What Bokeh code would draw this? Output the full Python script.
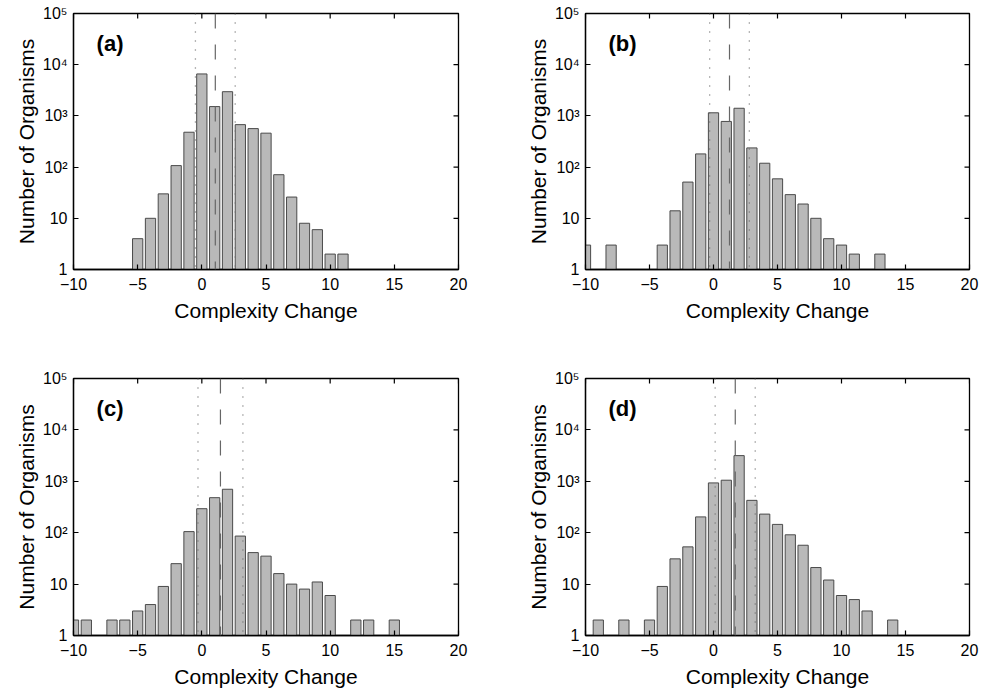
import math
from bokeh.plotting import figure
from bokeh.layouts import gridplot
from bokeh.models import FixedTicker, Label, Span
from bokeh.embed import file_html
from bokeh.resources import INLINE

# ---- data ----
a_change = [-5, -4, -3, -2, -1, 0, 1, 2, 3, 4, 5, 6, 7, 8, 9, 10, 11]
a_count = [4, 10, 30, 107, 480, 6600, 1520, 2970, 675, 565, 460, 71, 26, 8, 6, 2, 2]
a_mean, a_low, a_high = 1.05, -0.5, 2.6

b_change = [-10, -8, -4, -3, -2, -1, 0, 1, 2, 3, 4, 5, 6, 7, 8, 9, 10, 11, 13]
b_count = [3, 3, 3, 14, 51, 181, 1150, 780, 1410, 237, 119, 59, 29, 19, 10, 4, 3, 2, 2]
b_mean, b_low, b_high = 1.25, -0.3, 2.8

c_change = [-10, -9, -7, -6, -5, -4, -3, -2, -1, 0, 1, 2, 3, 4, 5, 6, 7, 8, 9, 10, 12, 13, 15]
c_count = [2, 2, 2, 2, 3, 4, 9, 25, 105, 293, 480, 700, 86, 41, 35, 16, 10, 8, 11, 6, 2, 2, 2]
c_mean, c_low, c_high = 1.45, -0.3, 3.2

d_change = [-9, -7, -5, -4, -3, -2, -1, 0, 1, 2, 3, 4, 5, 6, 7, 8, 9, 10, 11, 12, 14]
d_count = [2, 2, 2, 9, 31, 53, 203, 930, 1050, 3160, 426, 230, 145, 91, 57, 21, 12, 6, 5, 3, 2]
d_mean, d_low, d_high = 1.7, 0.13, 3.26

x_ticks = [-10, -5, 0, 5, 10, 15, 20]
x_tick_labels = ["\u221210", "\u22125", "0", "5", "10", "15", "20"]
y_ticks = [1, 10, 100, 1000, 10000, 100000]
y_tick_labels = ["1", "10", "10\u00b2", "10\u00b3", "10\u2074", "10\u2075"]

X_MIN, X_MAX = -10, 20
Y_MIN, Y_MAX = 1, 1e5
FONT = "Liberation Sans"


def panel(xs, counts, mean, low, high, tag, w, h, bl, br, bt, bb):
    p = figure(width=w, height=h, x_range=(X_MIN, X_MAX), y_range=(Y_MIN, Y_MAX),
               y_axis_type="log", output_backend="svg", toolbar_location=None,
               min_border_left=bl, min_border_right=br, min_border_top=bt,
               min_border_bottom=bb)
    p.xgrid.visible = False
    p.ygrid.visible = False
    p.outline_line_color = "black"
    p.outline_line_width = 1.3

    p.vbar(x=xs, width=0.8, bottom=Y_MIN, top=counts, fill_color="#b9b9b9",
           line_color="#4a4a4a", line_width=1)

    p.add_layout(Span(location=low, dimension="height", line_color="#6e6e6e",
                      line_dash="1 8", line_width=1.3))
    p.add_layout(Span(location=high, dimension="height", line_color="#6e6e6e",
                      line_dash="1 8", line_width=1.3))
    p.add_layout(Span(location=mean, dimension="height", line_color="#666666",
                      line_dash="15 16", line_width=1.2))

    # inward ticks on the top and right edges of the box
    p.ray(x=x_ticks, y=[Y_MAX] * len(x_ticks), length=5, length_units="screen",
          angle=-math.pi / 2, line_color="black", line_width=1.2)
    p.ray(x=[X_MAX] * len(y_ticks), y=y_ticks, length=5, length_units="screen",
          angle=math.pi, line_color="black", line_width=1.2)

    p.xaxis.ticker = FixedTicker(ticks=x_ticks)
    p.xaxis.major_label_overrides = dict(zip(x_ticks, x_tick_labels))
    p.yaxis.ticker = FixedTicker(ticks=y_ticks)
    p.yaxis.major_label_overrides = dict(zip(y_ticks, y_tick_labels))
    p.xaxis.axis_label = "Complexity Change"
    p.yaxis.axis_label = "Number of Organisms"

    for ax in (p.xaxis[0], p.yaxis[0]):
        ax.major_tick_in = 5
        ax.major_tick_out = 0
        ax.minor_tick_line_color = None
        ax.axis_line_width = 1.3
        ax.major_tick_line_width = 1.2
        ax.major_label_text_font = FONT
        ax.major_label_text_font_size = "16px"
        ax.major_label_text_color = "black"
        ax.axis_label_text_font = FONT
        ax.axis_label_text_font_size = "21px"
        ax.axis_label_text_font_style = "normal"
        ax.axis_label_text_color = "black"
    p.xaxis.major_label_standoff = 8
    p.xaxis.axis_label_standoff = 6
    p.yaxis.major_label_standoff = 6
    p.yaxis.axis_label_standoff = 2

    p.add_layout(Label(x=-8.2, y=10 ** 4.41, text=tag, text_font=FONT,
                       text_font_style="bold", text_font_size="22px",
                       text_baseline="middle", text_align="left", text_color="black"))
    return p


pa = panel(a_change, a_count, a_mean, a_low, a_high, "(a)", 492, 347, 73, 34, 13, 78)
pb = panel(b_change, b_count, b_mean, b_low, b_high, "(b)", 491, 347, 93, 14, 13, 78)
pc = panel(c_change, c_count, c_mean, c_low, c_high, "(c)", 492, 347, 73, 34, 31, 59)
pd = panel(d_change, d_count, d_mean, d_low, d_high, "(d)", 491, 347, 93, 14, 31, 59)

layout = gridplot([[pa, pb], [pc, pd]], toolbar_location=None)

open("out.html", "w").write(file_html(layout, INLINE))
